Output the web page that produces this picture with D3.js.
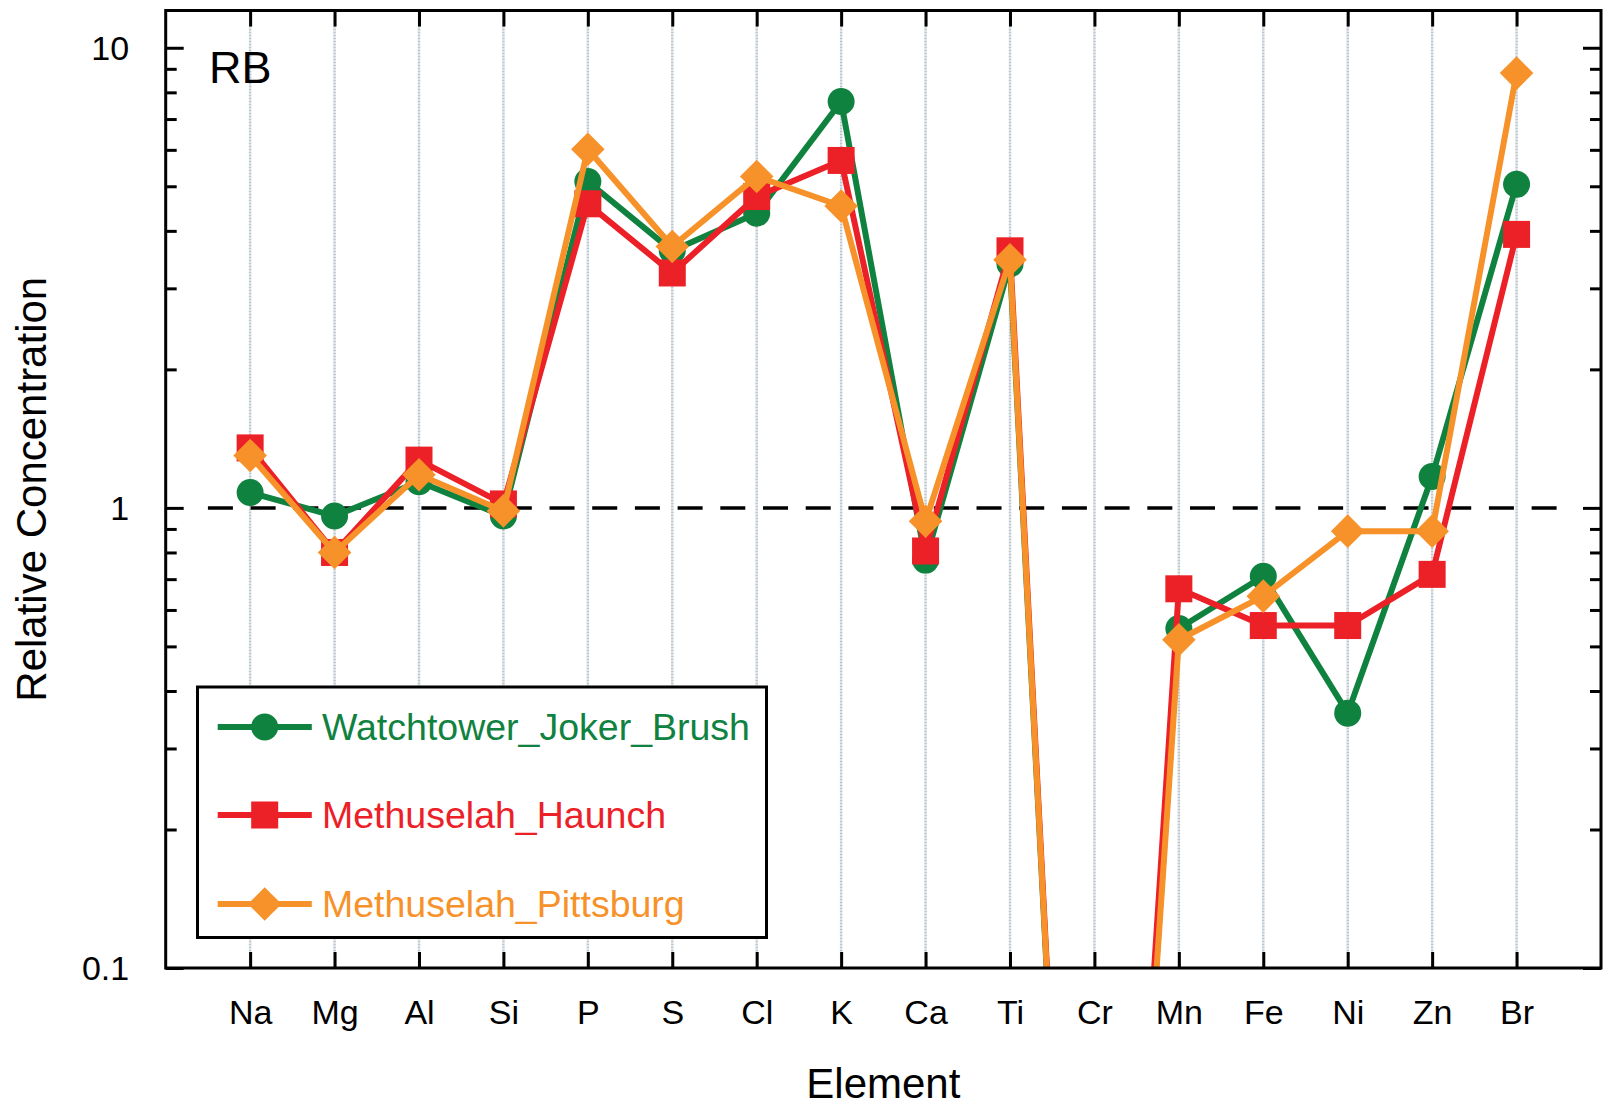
<!DOCTYPE html>
<html>
<head>
<meta charset="utf-8">
<script src="https://cdn.jsdelivr.net/npm/d3@7"></script>
<style>
  body { margin: 0; background: #fff; }
  svg { display: block; }
  text { font-family: "Liberation Sans", Arial, Helvetica, sans-serif; }
</style>
</head>
<body>
<svg id="chart" width="1603" height="1111"></svg>
<script>
// Elements along the x axis
const elements = ["Na", "Mg", "Al", "Si", "P", "S", "Cl", "K", "Ca", "Ti", "Cr", "Mn", "Fe", "Ni", "Zn", "Br"];

// Relative concentration per element for each target
const watchtowerJokerBrush = [1.08, 0.96, 1.14, 0.96, 5.12, 3.62, 4.37, 7.64, 0.77, 3.39, 0.001, 0.547, 0.71, 0.358, 1.17, 5.05];
const methuselahHaunch     = [1.35, 0.80, 1.27, 1.02, 4.58, 3.24, 4.75, 5.69, 0.806, 3.62, 0.001, 0.667, 0.555, 0.555, 0.717, 3.93];
const methuselahPittsburg  = [1.30, 0.80, 1.18, 0.985, 6.02, 3.70, 5.25, 4.53, 0.935, 3.46, 0.001, 0.517, 0.643, 0.89, 0.89, 8.81];

const seriesNames   = ["Watchtower_Joker_Brush", "Methuselah_Haunch", "Methuselah_Pittsburg"];
const seriesColors  = ["#10823f", "#ec2027", "#f7922a"];
const seriesSymbols = ["circle", "square", "diamond"];

// Log axis ticks
const yDomain = [0.1, 12.05];
const majorTicks = [0.1, 1, 10];
const majorTickLabels = ["0.1", "1", "10"];
const minorTicks = [0.2, 0.3, 0.4, 0.5, 0.6, 0.7, 0.8, 0.9, 2, 3, 4, 5, 6, 7, 8, 9];
const referenceLevel = 1;

const panelLabel = "RB";
const xTitle = "Element";
const yTitle = "Relative Concentration";

// ---- layout ----
const svg = d3.select("#chart");
const L = 165.7, R = 1601, T = 10.5, B = 968;
const frameWidth = 3;

const x = d3.scalePoint().domain(elements).range([L, R]).padding(1);
const y = d3.scaleLog().domain(yDomain).range([B, T]);
const step = x.step();

svg.append("rect").attr("width", 1603).attr("height", 1111).attr("fill", "#fff");

svg.append("defs").append("clipPath").attr("id", "plotClip")
  .append("rect").attr("x", L).attr("y", T).attr("width", R - L).attr("height", B - T);

const plot = svg.append("g").attr("clip-path", "url(#plotClip)");

// vertical grid at each element
plot.append("g").selectAll("line").data(elements).join("line")
  .attr("x1", d => x(d)).attr("x2", d => x(d))
  .attr("y1", T).attr("y2", B)
  .attr("stroke", "#bcc6cd").attr("stroke-width", 2.5)
  .attr("stroke-dasharray", "2,1");

// reference level
plot.append("line")
  .attr("x1", x(elements[0]) - step / 2)
  .attr("x2", x(elements[elements.length - 1]) + step / 2)
  .attr("y1", y(referenceLevel)).attr("y2", y(referenceLevel))
  .attr("stroke", "#000").attr("stroke-width", 3.5)
  .attr("stroke-dasharray", "25,17.7");

// marker drawing
const markerSize = { circle: 13.5, square: 13.5, diamond: 16.8 };
function drawMarker(g, kind, color) {
  if (kind === "circle") {
    g.append("circle").attr("r", markerSize.circle).attr("fill", color);
  } else if (kind === "square") {
    const s = markerSize.square;
    g.append("rect").attr("x", -s).attr("y", -s).attr("width", 2 * s).attr("height", 2 * s).attr("fill", color);
  } else {
    const h = markerSize.diamond;
    g.append("path").attr("d", `M0,${-h}L${h},0L0,${h}L${-h},0Z`).attr("fill", color);
  }
}

const seriesValues = [watchtowerJokerBrush, methuselahHaunch, methuselahPittsburg];
const line = d3.line().x((d, i) => x(elements[i])).y(d => y(d));

seriesValues.forEach((vals, si) => {
  const g = plot.append("g");
  g.append("path").datum(vals).attr("d", line)
    .attr("fill", "none").attr("stroke", seriesColors[si])
    .attr("stroke-width", 6).attr("stroke-linejoin", "round");
  vals.forEach((v, i) => {
    const m = g.append("g").attr("transform", `translate(${x(elements[i])},${y(v)})`);
    drawMarker(m, seriesSymbols[si], seriesColors[si]);
  });
});

// ---- axes ----
function styleAxis(g) {
  g.select(".domain").remove();
  g.selectAll(".tick line").attr("stroke", "#000").attr("stroke-width", 3);
  g.selectAll(".tick text").attr("fill", "#000");
}

// bottom: inward ticks and element labels
svg.append("g").attr("transform", `translate(0,${B})`)
  .call(d3.axisBottom(x).tickSizeInner(-16).tickSizeOuter(0).tickPadding(32))
  .call(styleAxis)
  .call(g => g.selectAll(".tick text").attr("font-size", 34).attr("font-family", null));

// top: inward ticks only
svg.append("g").attr("transform", `translate(0,${T})`)
  .call(d3.axisTop(x).tickSizeInner(-16).tickSizeOuter(0).tickFormat(""))
  .call(styleAxis);

// left: major ticks with labels, minor ticks
svg.append("g").attr("transform", `translate(${L},0)`)
  .call(d3.axisLeft(y).tickValues(majorTicks).tickSizeInner(-18).tickSizeOuter(0).tickPadding(36.5)
    .tickFormat((d, i) => majorTickLabels[i]))
  .call(styleAxis)
  .call(g => g.selectAll(".tick text").attr("font-size", 34).attr("font-family", null).attr("dy", "0.35em"));
svg.append("g").attr("transform", `translate(${L},0)`)
  .call(d3.axisLeft(y).tickValues(minorTicks).tickSizeInner(-11).tickSizeOuter(0).tickFormat(""))
  .call(styleAxis);

// right: mirrored ticks
svg.append("g").attr("transform", `translate(${R},0)`)
  .call(d3.axisRight(y).tickValues(majorTicks).tickSizeInner(-18).tickSizeOuter(0).tickFormat(""))
  .call(styleAxis);
svg.append("g").attr("transform", `translate(${R},0)`)
  .call(d3.axisRight(y).tickValues(minorTicks).tickSizeInner(-11).tickSizeOuter(0).tickFormat(""))
  .call(styleAxis);

// frame
svg.append("rect").attr("x", L).attr("y", T).attr("width", R - L).attr("height", B - T)
  .attr("fill", "none").attr("stroke", "#000").attr("stroke-width", frameWidth);

// titles
svg.append("text").attr("x", (L + R) / 2).attr("y", 1098)
  .attr("text-anchor", "middle").attr("font-size", 42).text(xTitle);
svg.append("text").attr("transform", `translate(46,${(T + B) / 2}) rotate(-90)`)
  .attr("text-anchor", "middle").attr("font-size", 42).text(yTitle);
svg.append("text").attr("x", 209).attr("y", 83)
  .attr("font-size", 45).text(panelLabel);

// ---- legend ----
const legend = svg.append("g");
legend.append("rect").attr("x", 197.5).attr("y", 687).attr("width", 569).attr("height", 250.5)
  .attr("fill", "#fff").attr("stroke", "#000").attr("stroke-width", 3);
const rowY = [727, 815, 904];
seriesNames.forEach((name, si) => {
  const row = legend.append("g").attr("transform", `translate(0,${rowY[si]})`);
  row.append("line").attr("x1", 217.7).attr("x2", 311.8)
    .attr("stroke", seriesColors[si]).attr("stroke-width", 6);
  const m = row.append("g").attr("transform", "translate(264.7,0)");
  drawMarker(m, seriesSymbols[si], seriesColors[si]);
  row.append("text").attr("x", 322).attr("dy", "0.35em")
    .attr("font-size", 37.5).attr("fill", seriesColors[si]).text(name);
});
</script>
</body>
</html>
